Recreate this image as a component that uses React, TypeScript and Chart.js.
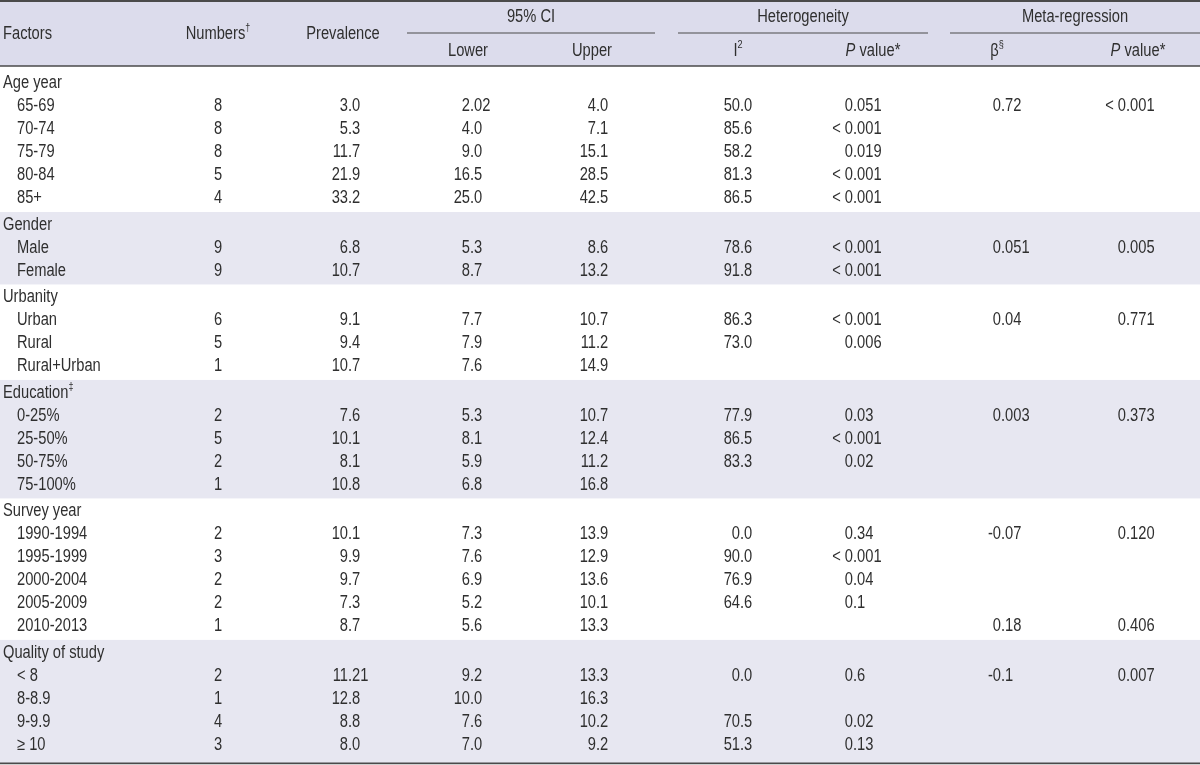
import React, { useEffect, useRef } from "react";
import { Chart, registerables } from "chart.js";

Chart.register(...registerables);

// ---------------- DATA ----------------
const groupNames = ["Age year", "Gender", "Urbanity", "Education", "Survey year", "Quality of study"];
const groupMarks = ["", "", "", "‡", "", ""];

const rowLabels = [
  ["65-69", "70-74", "75-79", "80-84", "85+"],
  ["Male", "Female"],
  ["Urban", "Rural", "Rural+Urban"],
  ["0-25%", "25-50%", "50-75%", "75-100%"],
  ["1990-1994", "1995-1999", "2000-2004", "2005-2009", "2010-2013"],
  ["< 8", "8-8.9", "9-9.9", "≥ 10"],
];

const numbers = [
  ["8", "8", "8", "5", "4"],
  ["9", "9"],
  ["6", "5", "1"],
  ["2", "5", "2", "1"],
  ["2", "3", "2", "2", "1"],
  ["2", "1", "4", "3"],
];

const prevalence = [
  ["3.0", "5.3", "11.7", "21.9", "33.2"],
  ["6.8", "10.7"],
  ["9.1", "9.4", "10.7"],
  ["7.6", "10.1", "8.1", "10.8"],
  ["10.1", "9.9", "9.7", "7.3", "8.7"],
  ["11.21", "12.8", "8.8", "8.0"],
];

const ciLower = [
  ["2.02", "4.0", "9.0", "16.5", "25.0"],
  ["5.3", "8.7"],
  ["7.7", "7.9", "7.6"],
  ["5.3", "8.1", "5.9", "6.8"],
  ["7.3", "7.6", "6.9", "5.2", "5.6"],
  ["9.2", "10.0", "7.6", "7.0"],
];

const ciUpper = [
  ["4.0", "7.1", "15.1", "28.5", "42.5"],
  ["8.6", "13.2"],
  ["10.7", "11.2", "14.9"],
  ["10.7", "12.4", "11.2", "16.8"],
  ["13.9", "12.9", "13.6", "10.1", "13.3"],
  ["13.3", "16.3", "10.2", "9.2"],
];

const iSquared = [
  ["50.0", "85.6", "58.2", "81.3", "86.5"],
  ["78.6", "91.8"],
  ["86.3", "73.0", ""],
  ["77.9", "86.5", "83.3", ""],
  ["0.0", "90.0", "76.9", "64.6", ""],
  ["0.0", "", "70.5", "51.3"],
];

const hetPValue = [
  ["0.051", "< 0.001", "0.019", "< 0.001", "< 0.001"],
  ["< 0.001", "< 0.001"],
  ["< 0.001", "0.006", ""],
  ["0.03", "< 0.001", "0.02", ""],
  ["0.34", "< 0.001", "0.04", "0.1", ""],
  ["0.6", "", "0.02", "0.13"],
];

const betaValue = [
  ["0.72", "", "", "", ""],
  ["0.051", ""],
  ["0.04", "", ""],
  ["0.003", "", "", ""],
  ["-0.07", "", "", "", "0.18"],
  ["-0.1", "", "", ""],
];

const metaPValue = [
  ["< 0.001", "", "", "", ""],
  ["0.005", ""],
  ["0.771", "", ""],
  ["0.373", "", "", ""],
  ["0.120", "", "", "", "0.406"],
  ["0.007", "", "", ""],
];

// header texts (segments: t = text, sup = superscript, it = italic)
type Seg = { t: string; sup?: boolean; it?: boolean };
const headerMain: Seg[][] = [
  [{ t: "Factors" }],
  [{ t: "Numbers" }, { t: "†", sup: true }],
  [{ t: "Prevalence" }],
];
const headerGroups: Seg[][] = [[{ t: "95% CI" }], [{ t: "Heterogeneity" }], [{ t: "Meta-regression" }]];
const headerSub: Seg[][] = [
  [{ t: "Lower" }],
  [{ t: "Upper" }],
  [{ t: "I" }, { t: "2", sup: true }],
  [{ t: "P", it: true }, { t: " value*" }],
  [{ t: "β" }, { t: "§", sup: true }],
  [{ t: "P", it: true }, { t: " value*" }],
];

// ---------------- LAYOUT / STYLE ----------------
const FAMILY = "'Liberation Sans', Arial, Helvetica, sans-serif";
const FONT_SIZE = 17.5;
const X_CONDENSE = 0.84;
const TEXT_DY = 1.5;
const TEXT_COLOR = "#2f2f2f";
const HEADER_BG = "#dcdcec";
const BAND_BG = "#e7e7f1";
const RULE_COLOR = "#4a4a4a";
const X_MAX = 1200;
const Y_TOP = -3.565;
const Y_BOTTOM = 29.7;
const GROUP_GAP = 0.152;

const headerMainPos = [
  { x: 3, align: "left" },
  { x: 218, align: "center" },
  { x: 343, align: "center" },
];
const headerGroupPos = [531, 803, 1075];
const headerGroupRules = [
  [407, 655],
  [678, 928],
  [950, 1200],
];
const headerSubPos = [468, 592, 738, 873, 997, 1138];
const HEAD_ROW1_Y = -2.87;
const HEAD_MID_Y = -2.13;
const HEAD_ROW2_Y = -1.39;
const HEAD_RULE_Y = -0.696;
const TOP_RULE_Y = -3.52;
const BOTTOM_RULE_Y = 29.63;

const columns = [
  { values: numbers, x: 218, align: "center" },
  { values: prevalence, x: 348, align: "decimal" },
  { values: ciLower, x: 470, align: "decimal" },
  { values: ciUpper, x: 596, align: "decimal" },
  { values: iSquared, x: 740, align: "decimal" },
  { values: hetPValue, x: 853, align: "decimal" },
  { values: betaValue, x: 1001, align: "decimal" },
  { values: metaPValue, x: 1126, align: "decimal" },
];
const LABEL_X_GROUP = 3;
const LABEL_X_ITEM = 17;
const SHADED_GROUPS = [1, 3, 5];

// ---------------- BUILD ROWS ----------------
type Row = { y: number; group: number; item: number };
function buildRows() {
  const groupRows: number[] = [];
  const itemRows: Row[] = [];
  let idx = 0;
  groupNames.forEach((_, g) => {
    groupRows.push(idx + g * GROUP_GAP);
    idx++;
    rowLabels[g].forEach((__, k) => {
      itemRows.push({ y: idx + g * GROUP_GAP, group: g, item: k });
      idx++;
    });
  });
  return { groupRows, itemRows };
}

function fontFor(seg: Seg) {
  const size = seg.sup ? FONT_SIZE * 0.62 : FONT_SIZE;
  return `${seg.it ? "italic " : ""}${size}px ${FAMILY}`;
}

function put(ctx: CanvasRenderingContext2D, s: string, x: number, y: number) {
  ctx.save();
  ctx.translate(x, y + TEXT_DY);
  ctx.scale(X_CONDENSE, 1);
  ctx.textAlign = "left";
  ctx.fillText(s, 0, 0);
  ctx.restore();
}
function widthOf(ctx: CanvasRenderingContext2D, s: string) {
  return ctx.measureText(s).width * X_CONDENSE;
}

function drawSegs(ctx: CanvasRenderingContext2D, segs: Seg[], x: number, y: number, align: string) {
  let total = 0;
  const widths = segs.map((s) => {
    ctx.font = fontFor(s);
    const w = widthOf(ctx, s.t);
    total += w;
    return w;
  });
  let cx = align === "center" ? x - total / 2 : align === "right" ? x - total : x;
  segs.forEach((s, i) => {
    ctx.font = fontFor(s);
    put(ctx, s.t, cx, s.sup ? y - FONT_SIZE * 0.36 : y);
    cx += widths[i];
  });
}

function drawDecimal(ctx: CanvasRenderingContext2D, s: string, x: number, y: number) {
  ctx.font = `${FONT_SIZE}px ${FAMILY}`;
  const i = s.indexOf(".");
  const left = i < 0 ? s : s.slice(0, i);
  const right = i < 0 ? "" : s.slice(i);
  put(ctx, left, x - widthOf(ctx, left), y);
  if (right) put(ctx, right, x, y);
}

const tablePlugin = {
  id: "tableDraw",
  beforeDatasetsDraw(chart: any) {
    const { ctx, scales } = chart;
    const xs = scales.x;
    const ys = scales.y;
    const { groupRows, itemRows } = buildRows();
    const x0 = xs.getPixelForValue(0);
    const x1 = xs.getPixelForValue(X_MAX);
    ctx.save();
    ctx.fillStyle = HEADER_BG;
    const hy0 = ys.getPixelForValue(Y_TOP);
    const hy1 = ys.getPixelForValue(HEAD_RULE_Y);
    ctx.fillRect(x0, hy0, x1 - x0, hy1 - hy0);
    ctx.fillStyle = BAND_BG;
    SHADED_GROUPS.forEach((g) => {
      const top = groupRows[g] - 0.5;
      const items = itemRows.filter((r) => r.group === g);
      const last = items[items.length - 1].y;
      const bottom = g === groupNames.length - 1 ? BOTTOM_RULE_Y : last + 0.5 + GROUP_GAP;
      const p0 = ys.getPixelForValue(top);
      const p1 = ys.getPixelForValue(bottom);
      ctx.fillRect(x0, p0, x1 - x0, p1 - p0);
    });
    ctx.strokeStyle = RULE_COLOR;
    const hline = (v: number, a: number, b: number, w: number) => {
      const py = ys.getPixelForValue(v);
      ctx.lineWidth = w;
      ctx.beginPath();
      ctx.moveTo(xs.getPixelForValue(a), py);
      ctx.lineTo(xs.getPixelForValue(b), py);
      ctx.stroke();
    };
    hline(TOP_RULE_Y, 0, X_MAX, 2);
    hline(HEAD_RULE_Y, 0, X_MAX, 1.6);
    hline(BOTTOM_RULE_Y, 0, X_MAX, 1.6);
    headerGroupRules.forEach(([a, b]) => hline(HEAD_MID_Y, a, b, 1.2));
    ctx.restore();
  },
  afterDatasetsDraw(chart: any) {
    const { ctx } = chart;
    ctx.save();
    ctx.fillStyle = TEXT_COLOR;
    ctx.textBaseline = "middle";
    chart.data.datasets.forEach((ds: any, di: number) => {
      const meta = chart.getDatasetMeta(di);
      meta.data.forEach((el: any, j: number) => {
        const cell = ds.cells[j];
        if (!cell) return;
        if (cell.segs) {
          drawSegs(ctx, cell.segs, el.x, el.y, cell.align);
        } else if (cell.text) {
          if (cell.align === "decimal") drawDecimal(ctx, cell.text, el.x, el.y);
          else drawSegs(ctx, [{ t: cell.text }], el.x, el.y, cell.align);
        }
      });
    });
    ctx.restore();
  },
};

function buildDatasets() {
  const { groupRows, itemRows } = buildRows();
  const datasets: any[] = [];
  const hdrData: any[] = [];
  const hdrCells: any[] = [];
  headerMain.forEach((segs, i) => {
    hdrData.push({ x: headerMainPos[i].x, y: HEAD_MID_Y });
    hdrCells.push({ segs, align: headerMainPos[i].align });
  });
  headerGroups.forEach((segs, i) => {
    hdrData.push({ x: headerGroupPos[i], y: HEAD_ROW1_Y });
    hdrCells.push({ segs, align: "center" });
  });
  headerSub.forEach((segs, i) => {
    hdrData.push({ x: headerSubPos[i], y: HEAD_ROW2_Y });
    hdrCells.push({ segs, align: "center" });
  });
  datasets.push({ label: "header", data: hdrData, cells: hdrCells, pointRadius: 0 });

  const labData: any[] = [];
  const labCells: any[] = [];
  groupNames.forEach((name, g) => {
    labData.push({ x: LABEL_X_GROUP, y: groupRows[g] });
    const segs: Seg[] = [{ t: name }];
    if (groupMarks[g]) segs.push({ t: groupMarks[g], sup: true });
    labCells.push({ segs, align: "left" });
  });
  itemRows.forEach((r) => {
    labData.push({ x: LABEL_X_ITEM, y: r.y });
    labCells.push({ text: rowLabels[r.group][r.item], align: "left" });
  });
  datasets.push({ label: "Factors", data: labData, cells: labCells, pointRadius: 0 });

  columns.forEach((col, ci) => {
    datasets.push({
      label: "col" + ci,
      data: itemRows.map((r) => ({ x: col.x, y: r.y })),
      cells: itemRows.map((r) => ({ text: col.values[r.group][r.item], align: col.align })),
      pointRadius: 0,
    });
  });
  return datasets;
}

export default function App() {
  const ref = useRef<HTMLCanvasElement | null>(null);
  useEffect(() => {
    if (!ref.current) return;
    const chart = new Chart(ref.current, {
      type: "scatter",
      data: { datasets: buildDatasets() },
      options: {
        responsive: false,
        animation: false,
        events: [],
        layout: { padding: 0 },
        plugins: { legend: { display: false }, tooltip: { enabled: false } },
        scales: {
          x: { type: "linear", display: false, min: 0, max: X_MAX },
          y: { type: "linear", display: false, min: Y_TOP, max: Y_BOTTOM, reverse: true },
        },
      },
      plugins: [tablePlugin],
    } as any);
    return () => chart.destroy();
  }, []);
  return (
    <div style={{ position: "fixed", left: 0, top: 0, width: 1200, height: 765, background: "#fff" }}>
      <canvas ref={ref} width={1200} height={765} style={{ display: "block" }} />
    </div>
  );
}
